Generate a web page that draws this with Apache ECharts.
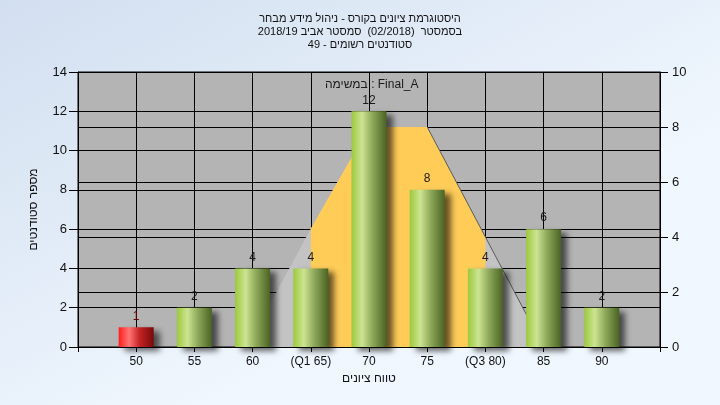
<!DOCTYPE html>
<html>
<head>
<meta charset="utf-8">
<script src="https://cdn.jsdelivr.net/npm/echarts@6/dist/echarts.min.js"></script>
<style>
html,body{margin:0;padding:0;}
#c{width:720px;height:405px;}
</style>
</head>
<body>
<div id="c"></div>
<script>
// ---- data ----
const categories = ['50','55','60','65','70','75','80','85','90'];
const xTickLabels = ['50','55','60','(Q1 65)','70','75','(Q3 80)','85','90'];
const studentCounts = [1,2,4,4,12,8,4,6,2];
const curveValues = [null,null,0.4,4.3,8,8,4,0,null];   // right axis
const q1Index = 3, q3Index = 6;
const leftTicks = [0,2,4,6,8,10,12,14];
const rightTicks = [0,2,4,6,8,10];
const titleLines = [
  'היסטוגרמת ציונים בקורס - ניהול מידע מבחר',
  'בסמסטר  (02/2018)  סמסטר אביב 2018/19',
  'סטודנטים רשומים - 49'
];
const taskLabel = 'במשימה : Final_A';
const yName = 'מספר סטודנטים';
const xName = 'טווח ציונים';

// ---- build ----
const FONT = "'Liberation Sans', Arial, 'DejaVu Sans', sans-serif";
const axisData = [''].concat(xTickLabels).concat(['']);
const pad = v => ['-'].concat(v.map(x => x === null ? '-' : x)).concat(['-']);

const greenGrad = {type:'linear',x:0,y:0,x2:1,y2:0,colorStops:[
  {offset:0,color:'#9cc93c'},{offset:0.3,color:'#cce492'},{offset:0.6,color:'#8ea85a'},{offset:1,color:'#4a6324'}]};
const redGrad = {type:'linear',x:0,y:0,x2:1,y2:0,colorStops:[
  {offset:0,color:'#ff1c1c'},{offset:0.3,color:'#ff7474'},{offset:0.6,color:'#c42222'},{offset:1,color:'#780a0a'}]};

const barData = pad(studentCounts).map((v,i) => {
  if (v === '-') return '-';
  const isFirst = (i === 1);
  return {value:v, itemStyle:{color: isFirst ? redGrad : greenGrad},
          label:{color: isFirst ? '#6a0000' : '#1a1a1a'}};
});

const curvePadded = pad(curveValues);
const yellowData = curvePadded.map((v,i) => (i-1 >= q1Index && i-1 <= q3Index) ? v : '-');
const lineData = curvePadded.map((v,i) => (i-1 >= 5 && v !== '-') ? v : '-');

const chart = echarts.init(document.getElementById('c'));
chart.setOption({
  backgroundColor:{type:'linear',x:0,y:0,x2:0.3,y2:1,colorStops:[{offset:0,color:'#d2dff0'},{offset:1,color:'#f0f7fe'}]},
  animation:false,
  textStyle:{fontFamily:FONT},
  title:{
    text:titleLines.join('\n'), left:'center', top:7,
    textStyle:{fontSize:11, fontWeight:'normal', color:'#111', lineHeight:13, fontFamily:FONT}
  },
  graphic:[{type:'text', left:325, top:79,
    style:{text:taskLabel, font:'12px '+FONT, fill:'#1a1a1a'}}],
  grid:{left:78, right:60, top:72, bottom:58, show:true, backgroundColor:'#b4b4b4', borderColor:'#000', borderWidth:1},
  xAxis:{
    type:'category', data:axisData, boundaryGap:false,
    name:xName, nameLocation:'middle', nameGap:26,
    nameTextStyle:{fontSize:12, color:'#111'},
    axisLine:{lineStyle:{color:'#000'}},
    axisTick:{length:5, interval:0, lineStyle:{color:'#000'}},
    axisLabel:{interval:0, margin:9, fontSize:12, color:'#111'},
    splitLine:{show:true, interval:0, lineStyle:{color:'#000', width:1}}
  },
  yAxis:[{
    type:'value', min:leftTicks[0], max:leftTicks[leftTicks.length-1], interval:2, position:'left',
    name:yName, nameLocation:'middle', nameGap:38, nameRotate:90,
    nameTextStyle:{fontSize:12, color:'#111'},
    axisLine:{show:true, lineStyle:{color:'#000'}},
    axisTick:{show:true, length:9, lineStyle:{color:'#000'}},
    axisLabel:{margin:11, fontSize:13, color:'#111'},
    splitLine:{show:true, lineStyle:{color:'#000', width:1}}
  },{
    type:'value', min:rightTicks[0], max:rightTicks[rightTicks.length-1], interval:2, position:'right',
    axisLine:{show:true, lineStyle:{color:'#000'}},
    axisTick:{show:true, length:8, lineStyle:{color:'#000'}},
    axisLabel:{margin:12, fontSize:13, color:'#111'},
    splitLine:{show:true, lineStyle:{color:'#000', width:1}}
  }],
  series:[{
    type:'line', yAxisIndex:1, data:curvePadded, symbol:'none', z:2,
    lineStyle:{width:0}, areaStyle:{color:'#c3c3c3', opacity:1}
  },{
    type:'line', yAxisIndex:1, data:yellowData, symbol:'none', z:3,
    lineStyle:{width:0}, areaStyle:{color:'#ffcc58', opacity:1}
  },{
    type:'line', yAxisIndex:1, data:lineData, symbol:'none', z:4,
    lineStyle:{width:1, color:'#5a5a5a'}
  },{
    type:'bar', yAxisIndex:0, data:barData, barWidth:35, z:5,
    itemStyle:{shadowColor:'rgba(0,0,0,0.6)', shadowBlur:6, shadowOffsetX:6, shadowOffsetY:4},
    label:{show:true, position:'top', distance:5, fontSize:12, fontFamily:FONT}
  }]
});
</script>
</body>
</html>
